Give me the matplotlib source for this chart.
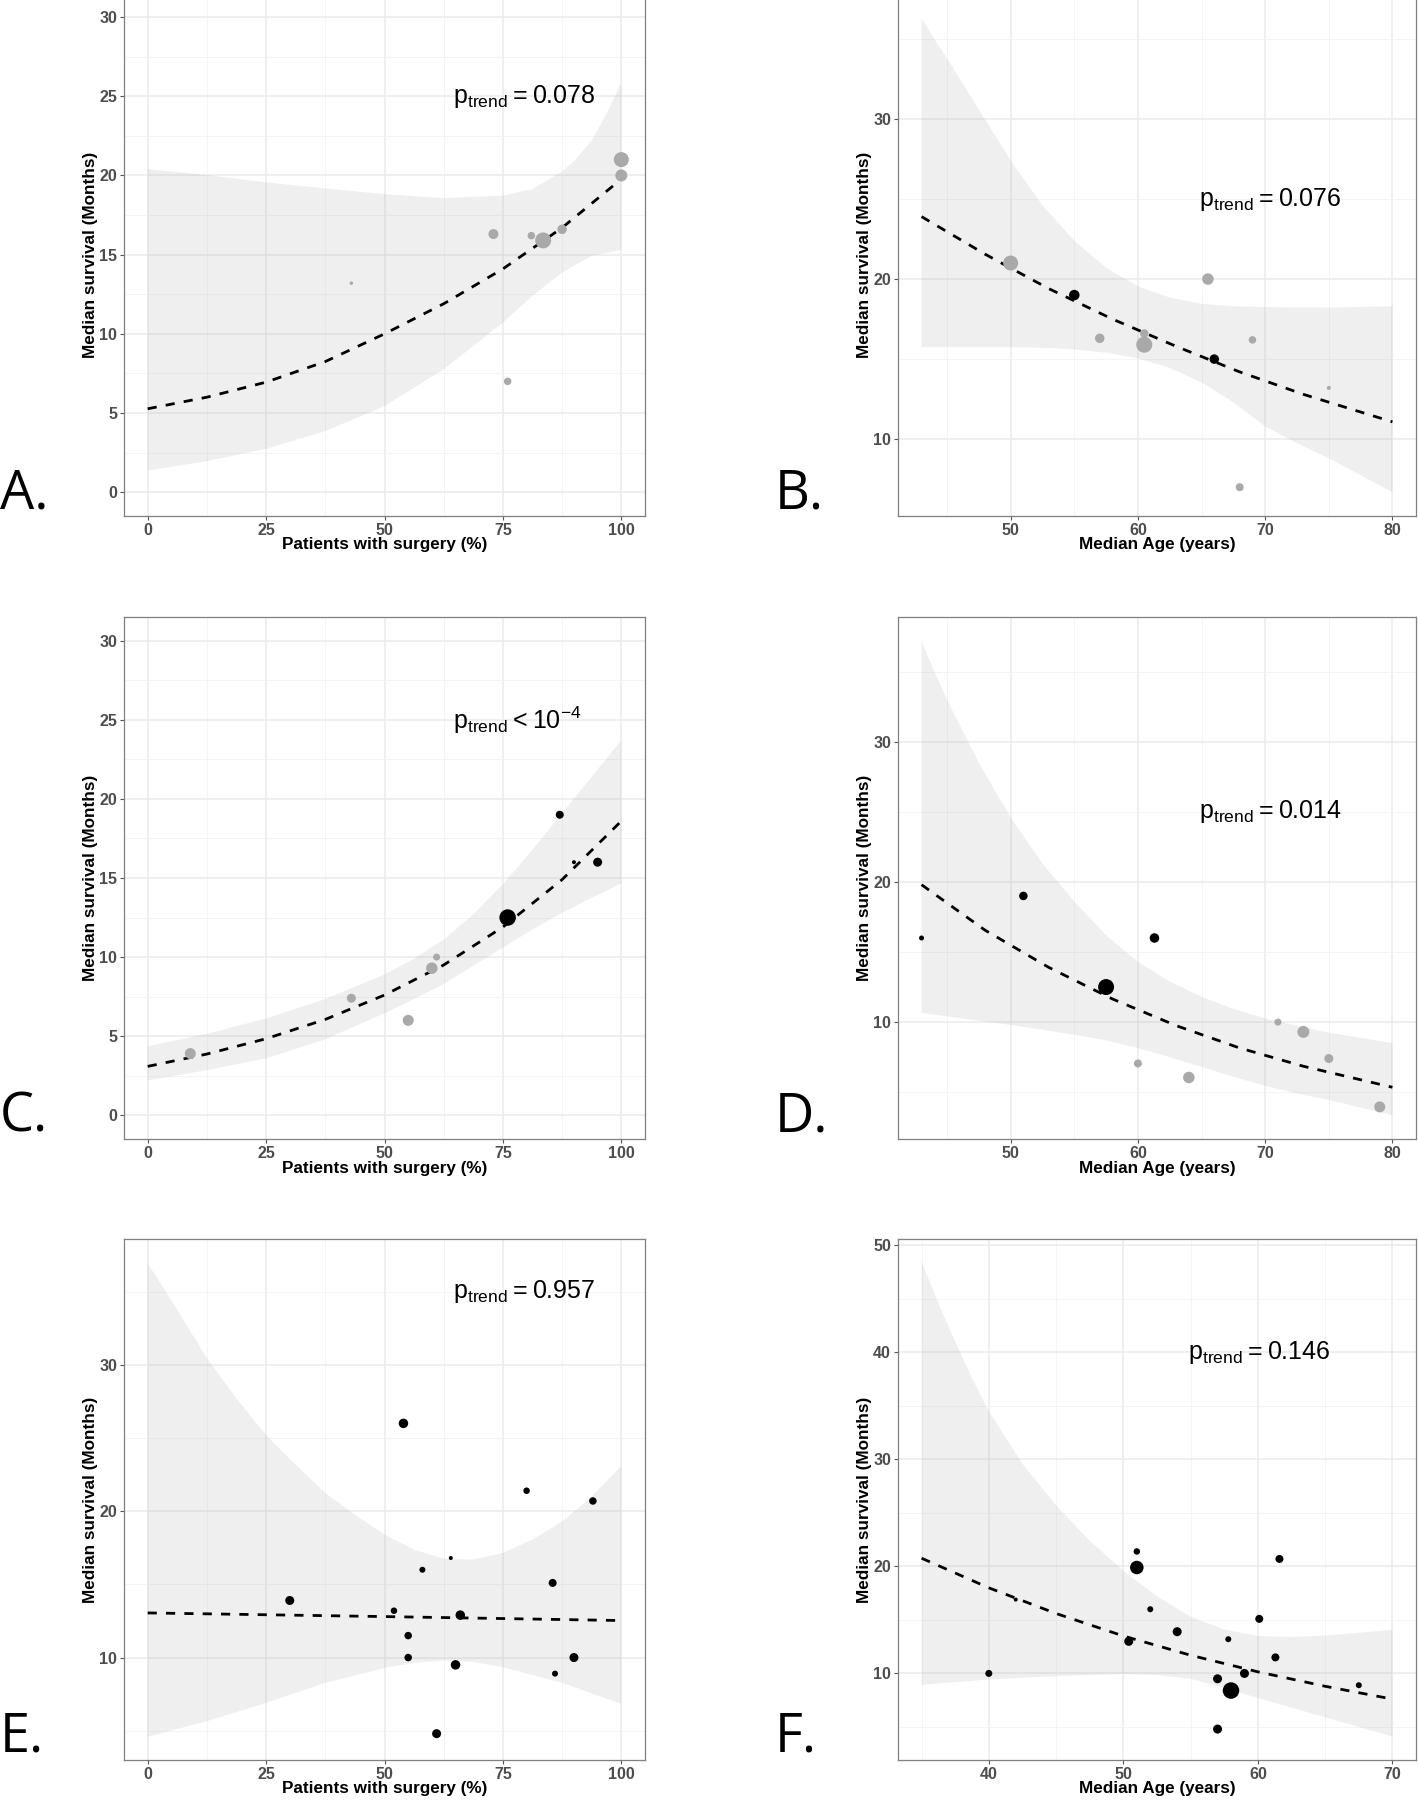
import matplotlib
matplotlib.use('Agg')
import matplotlib.pyplot as plt
from matplotlib import font_manager as fm

# ---------------- data ----------------
# Panel A
A_x = [43, 73, 76, 81, 83.5, 87.5, 100, 100]
A_y = [13.2, 16.3, 7.0, 16.2, 15.9, 16.6, 20.0, 21.0]
A_grp = ['grey'] * 8
A_n = [3.5, 10, 7.5, 7.5, 16, 9.5, 12, 15]
A_fit_x = [0, 12.5, 25, 37.5, 50, 62.5, 75, 87.5, 100]
A_fit_y = [5.27, 6.0, 6.95, 8.25, 10.0, 11.9, 14.1, 16.7, 19.77]
A_band_x = [0, 12.5, 25, 37.5, 50, 62.5, 75, 81.25, 87.5, 90, 93.75, 96.9, 100]
A_band_hi = [20.4, 20.03, 19.56, 19.18, 18.82, 18.57, 18.72, 19.14, 20.25, 20.9, 22.2, 23.9, 25.85]
A_band_x2 = [0, 12.5, 25, 37.5, 50, 62.5, 75, 81.25, 87.5, 93.75, 100]
A_band_lo = [1.37, 1.96, 2.74, 3.86, 5.44, 7.76, 10.71, 12.4, 13.87, 14.92, 15.3]

# Panel B
B_x = [50, 55, 57, 60.5, 60.5, 65.5, 66, 69, 75, 68]
B_y = [21, 19, 16.3, 16.6, 15.9, 20, 15, 16.2, 13.2, 7]
B_grp = ['grey', 'black', 'grey', 'grey', 'grey', 'grey', 'black', 'grey', 'grey', 'grey']
B_n = [15, 10.5, 9.5, 8.5, 16, 11.5, 9.5, 7.5, 4, 8]
B_fit_x = [43, 48, 53, 58, 63, 68, 73, 80]
B_fit_y = [23.9, 21.55, 19.4, 17.5, 15.8, 14.2, 12.8, 11.08]
B_band_x = [43, 44, 45, 46, 47.5, 50, 52.5, 55, 57.5, 60, 62.5, 65, 67.5, 70, 75, 80]
B_band_hi = [36.3, 35.0, 33.8, 32.5, 30.6, 27.4, 24.6, 22.4, 20.7, 19.55, 18.85, 18.45, 18.3, 18.25, 18.22, 18.3]
B_band_x2 = [43, 50, 53, 55, 57.5, 60, 62.5, 65, 67.5, 70, 72.5, 75, 77.5, 80]
B_band_lo = [15.76, 15.75, 15.7, 15.6, 15.4, 15.05, 14.45, 13.55, 12.3, 10.8, 9.75, 8.8, 7.75, 6.68]

# Panel C
C_x = [9, 43, 55, 60, 61, 76, 87, 90, 95]
C_y = [3.9, 7.4, 6.0, 9.3, 10.0, 12.5, 19.0, 16.0, 16.0]
C_grp = ['grey'] * 5 + ['black'] * 4
C_n = [11, 9, 11, 11.5, 7, 16.5, 8, 4, 9]
C_fit_x = [0, 12.5, 25, 37.5, 50, 62.5, 75, 87.5, 100]
C_fit_y = [3.09, 3.87, 4.84, 6.06, 7.6, 9.5, 11.9, 14.9, 18.6]
C_band_x = [0, 12.5, 25, 37.5, 50, 56.25, 62.5, 68.75, 75, 81.25, 87.5, 93.75, 100]
C_band_hi = [4.37, 5.15, 6.12, 7.35, 8.9, 9.9, 11.1, 12.7, 14.6, 16.8, 19.1, 21.4, 23.7]
C_band_x2 = C_band_x
C_band_lo = [2.2, 2.85, 3.6, 4.8, 6.45, 7.35, 8.3, 9.45, 10.6, 11.75, 12.8, 13.75, 14.65]

# Panel D
D_x = [43, 51, 57.5, 61.3, 60, 64, 71, 73, 75, 79]
D_y = [16, 19, 12.5, 16, 7.05, 6.05, 10, 9.3, 7.4, 3.95]
D_grp = ['black'] * 4 + ['grey'] * 6
D_n = [5, 8.5, 16, 9.5, 8, 11.5, 7, 12, 9, 11]
D_fit_x = [43, 48, 53, 58, 63, 68, 73, 80]
D_fit_y = [19.8, 16.55, 13.9, 11.65, 9.75, 8.15, 6.85, 5.35]
D_band_x = [43, 44, 45, 47.5, 50, 52.5, 55, 57.5, 60, 62.5, 65, 67.5, 70, 75, 80]
D_band_hi = [37.2, 35.0, 33.0, 28.5, 24.6, 21.3, 18.6, 16.2, 14.3, 12.9, 11.8, 10.95, 10.25, 9.25, 8.5]
D_band_x2 = [43, 45, 50, 55, 57.5, 60, 62.5, 65, 67.5, 70, 72.5, 75, 77.5, 80]
D_band_lo = [10.66, 10.4, 9.8, 9.1, 8.7, 8.15, 7.5, 6.8, 6.1, 5.45, 4.9, 4.45, 3.9, 3.35]

# Panel E
E_x = [30, 52, 54, 55, 55, 58, 61, 64, 65, 66, 80, 85.5, 86, 90, 94]
E_y = [13.9, 13.2, 26.0, 11.5, 10.0, 16.0, 4.8, 16.8, 9.5, 12.9, 21.4, 15.1, 8.9, 10.0, 20.7]
E_grp = ['black'] * 15
E_n = [9, 6.5, 9.5, 7.5, 7.5, 6, 9, 4, 9.5, 9.5, 6.5, 8, 6, 9, 7.5]
E_fit_x = [0, 50, 100]
E_fit_y = [13.05, 12.8, 12.53]
E_band_x = [0, 6.25, 12.5, 18.75, 25, 31.25, 37.5, 43.75, 50, 56.25, 62.5, 68.75, 75, 81.25, 87.5, 93.75, 100]
E_band_hi = [36.95, 33.76, 30.46, 27.7, 25.2, 23.18, 21.24, 19.76, 18.4, 17.37, 16.76, 16.69, 17.15, 18.06, 19.3, 21.0, 23.1]
E_band_x2 = [0, 12.5, 25, 37.5, 50, 56.25, 62.5, 68.75, 75, 87.5, 100]
E_band_lo = [4.58, 5.65, 6.9, 8.27, 9.29, 9.64, 9.8, 9.7, 9.34, 8.27, 6.84]

# Panel F
F_x = [40, 42, 50.4, 51, 51, 52, 54, 57, 57, 57.8, 58, 59, 60.1, 61.3, 61.6, 67.5]
F_y = [10, 16.9, 13.0, 21.4, 19.9, 16.0, 13.9, 9.5, 4.8, 13.2, 8.4, 10.0, 15.1, 11.5, 20.7, 8.9]
F_grp = ['black'] * 16
F_n = [7, 4, 9, 6.5, 13.5, 6, 9, 9, 9, 6, 16.5, 9, 8, 8, 8, 6]
F_fit_x = [35, 40, 45, 50, 55, 60, 65, 70]
F_fit_y = [20.77, 18.0, 15.6, 13.5, 11.7, 10.15, 8.8, 7.6]
F_band_x = [35, 36.25, 37.5, 38.75, 40, 42.5, 45, 47.5, 50, 52.5, 55, 57.5, 60, 62.5, 65, 67.5, 70]
F_band_hi = [48.5, 44.6, 41.0, 37.6, 34.5, 29.6, 25.7, 22.4, 19.6, 17.2, 15.3, 14.1, 13.5, 13.4, 13.55, 13.8, 14.08]
F_band_x2 = [35, 40, 45, 50, 52.5, 55, 57.5, 60, 62.5, 65, 67.5, 70]
F_band_lo = [8.93, 9.43, 9.75, 9.93, 9.85, 9.5, 8.65, 7.7, 6.8, 5.9, 5.0, 4.13]

P_TEXT = ['0.078', '0.076', None, '0.014', '0.957', '0.146']
LETTERS = ['A.', 'B.', 'C.', 'D.', 'E.', 'F.']
XLABEL_SURG = 'Patients with surgery (%)'
XLABEL_AGE = 'Median Age (years)'
YLABEL = 'Median survival (Months)'

# ---------------- styling ----------------
W, H = 1418, 1802
DPI = 100
_names = {f.name for f in fm.fontManager.ttflist}
HAS_NARROW = 'Liberation Sans Narrow' in _names
if HAS_NARROW:
    NARROW = ['Liberation Sans Narrow', 'DejaVu Sans']
    TITLE_SIZE, TICK_SIZE = 14.5, 12.5
else:
    NARROW = ['Liberation Sans', 'DejaVu Sans']
    TITLE_SIZE, TICK_SIZE = 12.3, 11.5
REG = ['Liberation Sans', 'DejaVu Sans']
COLORS = {'grey': '#A9A9A9', 'black': '#000000'}

fig = plt.figure(figsize=(W / DPI, H / DPI), dpi=DPI)
fig.patch.set_facecolor('white')


def rect_px(left, top, right, bottom):
    return [left / W, 1 - bottom / H, (right - left) / W, (bottom - top) / H]


def panel(rect, x, y, grp, n, fx, fy, bx, bhi, bx2, blo, xlim, ylim,
          xmaj, xmin, ymaj, ymin, xlabel, ptext, ppos, letter, lpos):
    ax = fig.add_axes(rect_px(*rect))
    ax.set_xticks(xmaj)
    ax.set_xticks(xmin, minor=True)
    ax.set_yticks(ymaj)
    ax.set_yticks(ymin, minor=True)
    ax.set_xlim(*xlim)
    ax.set_ylim(*ylim)
    ax.grid(True, which='major', color='#EBEBEB', lw=1.1, zorder=0)
    ax.grid(True, which='minor', color='#F2F2F2', lw=0.6, zorder=0)
    ax.set_axisbelow(True)
    for s in ax.spines.values():
        s.set_color('#7F7F7F')
        s.set_linewidth(0.9)
    ax.tick_params(which='major', length=3, width=0.8, color='#555555',
                   labelcolor='#4D4D4D', labelsize=TICK_SIZE, pad=2)
    ax.tick_params(which='minor', length=0)
    for lab in ax.get_xticklabels() + ax.get_yticklabels():
        lab.set_fontfamily(NARROW)
        lab.set_fontweight('bold')
    # confidence band polygon: upper edge left->right, lower edge right->left
    px = list(bx) + list(bx2)[::-1]
    py = list(bhi) + list(blo)[::-1]
    ax.fill(px, py, color='#999999', alpha=0.15, lw=0, zorder=1)
    ax.plot(fx, fy, color='black', lw=2.0, ls=(0, (3.3, 3.3)), zorder=2)
    ax.scatter(x, y, s=[(d * 0.72) ** 2 for d in n], c=[COLORS[g] for g in grp],
               linewidths=0, zorder=3)
    wpx = rect[2] - rect[0]
    hpx = rect[3] - rect[1]
    ax.text(-33 / wpx, 0.5, YLABEL, transform=ax.transAxes, rotation=90,
            ha='center', va='center', fontsize=TITLE_SIZE, fontweight='bold',
            family=NARROW, color='black')
    ax.text(0.5, -29 / hpx, xlabel, transform=ax.transAxes,
            ha='center', va='center', fontsize=TITLE_SIZE, fontweight='bold',
            family=NARROW, color='black')
    if ptext is None:
        s = r'$\mathregular{p_{trend} < 10^{-4}}$'
    else:
        s = r'$\mathregular{p_{trend} = ' + ptext + '}$'
    ax.text(ppos[0], ppos[1], s, ha='left', va='center', fontsize=18,
            family=REG, color='black', zorder=4)
    fig.text(lpos[0] / W, 1 - lpos[1] / H, letter, ha='left', va='baseline',
             fontsize=39, family=['Open Sans', 'DejaVu Sans'], color='black')
    return ax


surg_maj = [0, 25, 50, 75, 100]
surg_min = [12.5, 37.5, 62.5, 87.5]
age_maj = [50, 60, 70, 80]
age_min = [45, 55, 65, 75]
y30_maj = [0, 5, 10, 15, 20, 25, 30]
y30_min = [2.5, 7.5, 12.5, 17.5, 22.5, 27.5]

panel((124, -6.7, 645, 516), A_x, A_y, A_grp, A_n, A_fit_x, A_fit_y,
      A_band_x, A_band_hi, A_band_x2, A_band_lo, (-5, 105), (-1.5, 31.5),
      surg_maj, surg_min, y30_maj, y30_min,
      XLABEL_SURG, P_TEXT[0], (64.5, 25), LETTERS[0], (0, 509))

panel((898, -6.7, 1416, 516), B_x, B_y, B_grp, B_n, B_fit_x, B_fit_y,
      B_band_x, B_band_hi, B_band_x2, B_band_lo, (41.15, 81.85), (5.2, 37.85),
      age_maj, age_min, [10, 20, 30], [15, 25, 35],
      XLABEL_AGE, P_TEXT[1], (64.8, 25), LETTERS[1], (775, 509))

panel((124, 617, 645, 1139), C_x, C_y, C_grp, C_n, C_fit_x, C_fit_y,
      C_band_x, C_band_hi, C_band_x2, C_band_lo, (-5, 105), (-1.5, 31.5),
      surg_maj, surg_min, y30_maj, y30_min,
      XLABEL_SURG, P_TEXT[2], (64.5, 25), LETTERS[2], (0, 1131))

panel((898, 617, 1416, 1139), D_x, D_y, D_grp, D_n, D_fit_x, D_fit_y,
      D_band_x, D_band_hi, D_band_x2, D_band_lo, (41.15, 81.85), (1.66, 38.9),
      age_maj, age_min, [10, 20, 30], [5, 15, 25, 35],
      XLABEL_AGE, P_TEXT[3], (64.8, 25), LETTERS[3], (775, 1131))

panel((124, 1239, 645, 1760), E_x, E_y, E_grp, E_n, E_fit_x, E_fit_y,
      E_band_x, E_band_hi, E_band_x2, E_band_lo, (-5, 105), (3.0, 38.6),
      surg_maj, surg_min, [10, 20, 30], [5, 15, 25, 35],
      XLABEL_SURG, P_TEXT[4], (64.5, 35), LETTERS[4], (0, 1751))

panel((898, 1239, 1416, 1760), F_x, F_y, F_grp, F_n, F_fit_x, F_fit_y,
      F_band_x, F_band_hi, F_band_x2, F_band_lo, (33.25, 71.75), (1.91, 50.6),
      [40, 50, 60, 70], [35, 45, 55, 65], [10, 20, 30, 40, 50], [5, 15, 25, 35, 45],
      XLABEL_AGE, P_TEXT[5], (54.8, 40), LETTERS[5], (775, 1751))

fig.savefig('out.png', dpi=DPI, facecolor='white')
